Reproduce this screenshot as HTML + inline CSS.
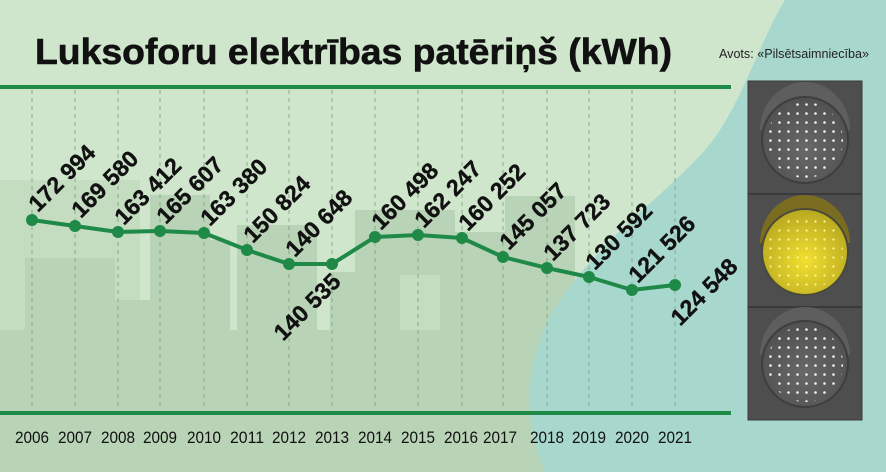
<!DOCTYPE html>
<html><head><meta charset="utf-8"><style>
html,body{margin:0;padding:0;width:886px;height:472px;overflow:hidden;background:#cfe6cc}
svg{display:block}
</style></head><body>
<svg width="886" height="472" viewBox="0 0 886 472" xmlns="http://www.w3.org/2000/svg">
<defs>
<pattern id="dots" width="9" height="9" patternUnits="userSpaceOnUse" x="1" y="1">
<circle cx="4.5" cy="4.5" r="1.3" fill="#f4f4f4"/></pattern>
<pattern id="ydots" width="9" height="9" patternUnits="userSpaceOnUse" x="1" y="1">
<circle cx="4.5" cy="4.5" r="1.1" fill="#fff8a0"/></pattern>
<radialGradient id="lamp" cx="0.5" cy="0.6" r="0.6"><stop offset="0" stop-color="#686868"/><stop offset="1" stop-color="#505050"/></radialGradient>
<radialGradient id="ylamp" cx="0.5" cy="0.6" r="0.6"><stop offset="0" stop-color="#f2e030"/><stop offset="1" stop-color="#b8a820"/></radialGradient>
</defs>
<rect width="886" height="472" fill="#cfe6cc"/>
<g fill="#b9d3b6">
<rect x="0" y="180" width="140" height="292" fill="#c4dcc0"/>
<rect x="25" y="258" width="90" height="214"/>
<rect x="48" y="300" width="120" height="172"/>
<rect x="150" y="195" width="60" height="277"/>
<rect x="170" y="240" width="60" height="232"/>
<rect x="237" y="225" width="80" height="247"/>
<rect x="330" y="272" width="60" height="200"/>
<rect x="355" y="210" width="100" height="262"/>
<rect x="400" y="275" width="40" height="197" fill="#c4dcc0"/>
<rect x="452" y="232" width="60" height="240"/>
<rect x="505" y="196" width="70" height="276"/>
<rect x="0" y="330" width="560" height="142"/>
</g>
<path d="M785 0 L886 0 L886 472 L545 472 C520 420 525 350 560 300 C610 230 660 200 705 150 C740 110 760 40 785 0 Z" fill="#a8d8cd"/>
<g stroke="#8aa88a" stroke-width="1" stroke-dasharray="4,4">
<line x1="32" y1="90" x2="32" y2="410"/><line x1="75" y1="90" x2="75" y2="410"/><line x1="118" y1="90" x2="118" y2="410"/><line x1="160" y1="90" x2="160" y2="410"/><line x1="204" y1="90" x2="204" y2="410"/><line x1="247" y1="90" x2="247" y2="410"/><line x1="289" y1="90" x2="289" y2="410"/><line x1="332" y1="90" x2="332" y2="410"/><line x1="375" y1="90" x2="375" y2="410"/><line x1="418" y1="90" x2="418" y2="410"/><line x1="462" y1="90" x2="462" y2="410"/><line x1="503" y1="90" x2="503" y2="410"/><line x1="547" y1="90" x2="547" y2="410"/><line x1="589" y1="90" x2="589" y2="410"/><line x1="632" y1="90" x2="632" y2="410"/><line x1="675" y1="90" x2="675" y2="410"/>
</g>
<line x1="0" y1="87" x2="731" y2="87" stroke="#1f8a48" stroke-width="4"/>
<line x1="0" y1="413" x2="731" y2="413" stroke="#1f8a48" stroke-width="4"/>
<text x="35" y="64" font-family="Liberation Sans, sans-serif" font-weight="bold" font-size="36" textLength="637" lengthAdjust="spacingAndGlyphs" fill="#111" stroke="#111" stroke-width="0.6">Luksoforu elektrības patēriņš (kWh)</text>
<text x="719" y="58" font-family="Liberation Sans, sans-serif" font-size="13" textLength="150" lengthAdjust="spacingAndGlyphs" fill="#222">Avots: «Pilsētsaimniecība»</text>
<polyline points="32,220 75,226 118,232 160,231 204,233 247,250 289,264 332,264 375,237 418,235 462,238 503,257 547,268 589,277 632,290 675,285" fill="none" stroke="#1f8a48" stroke-width="4" stroke-linejoin="round"/>
<g fill="#1f8a48">
<circle cx="32" cy="220" r="6"/><circle cx="75" cy="226" r="6"/><circle cx="118" cy="232" r="6"/><circle cx="160" cy="231" r="6"/><circle cx="204" cy="233" r="6"/><circle cx="247" cy="250" r="6"/><circle cx="289" cy="264" r="6"/><circle cx="332" cy="264" r="6"/><circle cx="375" cy="237" r="6"/><circle cx="418" cy="235" r="6"/><circle cx="462" cy="238" r="6"/><circle cx="503" cy="257" r="6"/><circle cx="547" cy="268" r="6"/><circle cx="589" cy="277" r="6"/><circle cx="632" cy="290" r="6"/><circle cx="675" cy="285" r="6"/>
</g>
<g font-family="Liberation Sans, sans-serif" font-weight="bold" font-size="23" fill="#111" stroke="#111" stroke-width="0.4">
<text transform="translate(38,213) rotate(-45)">172 994</text>
<text transform="translate(81,219) rotate(-45)">169 580</text>
<text transform="translate(124,226) rotate(-45)">163 412</text>
<text transform="translate(166,225) rotate(-45)">165 607</text>
<text transform="translate(210,227) rotate(-45)">163 380</text>
<text transform="translate(253,244) rotate(-45)">150 824</text>
<text transform="translate(295,258) rotate(-45)">140 648</text>
<text transform="translate(381,231) rotate(-45)">160 498</text>
<text transform="translate(424,229) rotate(-45)">162 247</text>
<text transform="translate(468,232) rotate(-45)">160 252</text>
<text transform="translate(509,251) rotate(-45)">145 057</text>
<text transform="translate(553,262) rotate(-45)">137 723</text>
<text transform="translate(595,271) rotate(-45)">130 592</text>
<text transform="translate(638,284) rotate(-45)">121 526</text>
<text text-anchor="end" transform="translate(342,283) rotate(-45)">140 535</text>
<text text-anchor="end" transform="translate(739,268) rotate(-45)">124 548</text>
</g>
<g font-family="Liberation Sans, sans-serif" font-size="17" fill="#111" text-anchor="middle">
<text x="32" y="443" textLength="34" lengthAdjust="spacingAndGlyphs">2006</text><text x="75" y="443" textLength="34" lengthAdjust="spacingAndGlyphs">2007</text><text x="118" y="443" textLength="34" lengthAdjust="spacingAndGlyphs">2008</text><text x="160" y="443" textLength="34" lengthAdjust="spacingAndGlyphs">2009</text><text x="204" y="443" textLength="34" lengthAdjust="spacingAndGlyphs">2010</text><text x="247" y="443" textLength="34" lengthAdjust="spacingAndGlyphs">2011</text><text x="289" y="443" textLength="34" lengthAdjust="spacingAndGlyphs">2012</text><text x="332" y="443" textLength="34" lengthAdjust="spacingAndGlyphs">2013</text><text x="375" y="443" textLength="34" lengthAdjust="spacingAndGlyphs">2014</text><text x="418" y="443" textLength="34" lengthAdjust="spacingAndGlyphs">2015</text><text x="461" y="443" textLength="34" lengthAdjust="spacingAndGlyphs">2016</text><text x="500" y="443" textLength="34" lengthAdjust="spacingAndGlyphs">2017</text><text x="547" y="443" textLength="34" lengthAdjust="spacingAndGlyphs">2018</text><text x="589" y="443" textLength="34" lengthAdjust="spacingAndGlyphs">2019</text><text x="632" y="443" textLength="34" lengthAdjust="spacingAndGlyphs">2020</text><text x="675" y="443" textLength="34" lengthAdjust="spacingAndGlyphs">2021</text>
</g>
<rect x="748" y="81" width="114" height="339" fill="#4e4e4e" stroke="#3a3a3a" stroke-width="1"/>
<line x1="748" y1="194" x2="862" y2="194" stroke="#3a3a3a" stroke-width="2"/>
<line x1="748" y1="307" x2="862" y2="307" stroke="#3a3a3a" stroke-width="2"/>
<g>
<path d="M760 130 A45 48 0 0 1 850 130 Z" fill="#5e5e5e"/>
<circle cx="805" cy="140" r="43" fill="url(#lamp)" stroke="#3e3e3e" stroke-width="2"/>
<circle cx="805" cy="140" r="38" fill="url(#dots)"/>
<path d="M760 243 A45 48 0 0 1 850 243 Z" fill="#7a6c20"/>
<circle cx="805" cy="252" r="43" fill="url(#ylamp)" stroke="#4a4a3a" stroke-width="2"/>
<circle cx="805" cy="252" r="38" fill="url(#ydots)"/>
<path d="M760 355 A45 48 0 0 1 850 355 Z" fill="#5e5e5e"/>
<circle cx="805" cy="364" r="43" fill="url(#lamp)" stroke="#3e3e3e" stroke-width="2"/>
<circle cx="805" cy="364" r="38" fill="url(#dots)"/>
</g>
</svg>
</body></html>
